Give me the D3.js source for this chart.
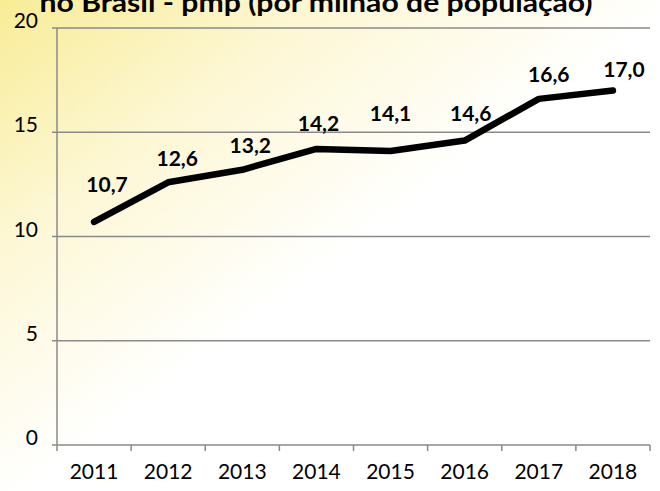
<!DOCTYPE html>
<html>
<head>
  <script src="https://d3js.org/d3.v7.min.js"></script>
  <style>
    body { margin: 0; }
    text { font-family: Lato, "Open Sans", sans-serif; }
  </style>
</head>
<body>
  <div id="chart"></div>
  <script>
    var years = ["2011", "2012", "2013", "2014", "2015", "2016", "2017", "2018"];
    var pmp = [10.7, 12.6, 13.2, 14.2, 14.1, 14.6, 16.6, 17.0];
    var yTicks = [0, 5, 10, 15, 20];
    var title = "no Brasil - pmp (por milhão de população)";

    // hand placed label nudges (dx, dy from the point), like in the original
    var labelNudge = [[13, -30], [9, -16], [8, -17], [2, -18], [0, -30], [6, -20], [10, -17], [11, -14]];

    var width = 660, height = 491;
    var margin = { top: 28, right: 10, bottom: 46, left: 57 };

    var svg = d3.select("#chart").append("svg")
      .attr("width", width)
      .attr("height", height);

    var grad = svg.append("defs").append("linearGradient")
      .attr("id", "bg")
      .attr("x1", 0).attr("y1", 0).attr("x2", 1).attr("y2", 1);
    grad.append("stop").attr("offset", 0).attr("stop-color", "#f8ec96");
    grad.append("stop").attr("offset", 0.25).attr("stop-color", "#fdf7d4");
    grad.append("stop").attr("offset", 0.52).attr("stop-color", "#ffffff");

    svg.append("rect").attr("width", width).attr("height", height).attr("fill", "url(#bg)");

    var x = d3.scaleBand()
      .domain(years)
      .range([margin.left, 650]);

    var y = d3.scaleLinear()
      .domain([0, 20])
      .range([445, margin.top]);

    // gridlines
    svg.append("g")
      .selectAll("line")
      .data(yTicks)
      .enter().append("line")
      .attr("x1", 52).attr("x2", 650)
      .attr("y1", function(d) { return y(d); })
      .attr("y2", function(d) { return y(d); })
      .attr("stroke", "#8a8a8a")
      .attr("stroke-width", 1.5);

    // y axis line
    svg.append("line")
      .attr("x1", margin.left).attr("x2", margin.left)
      .attr("y1", y(20)).attr("y2", y(0))
      .attr("stroke", "#8a8a8a")
      .attr("stroke-width", 1.5);

    // x ticks at band edges
    var edges = years.map(function(d) { return x(d); }).concat([x(years[years.length - 1]) + x.bandwidth()]);
    svg.append("g")
      .selectAll("line")
      .data(edges)
      .enter().append("line")
      .attr("x1", function(d) { return d; })
      .attr("x2", function(d) { return d; })
      .attr("y1", y(0)).attr("y2", y(0) + 6)
      .attr("stroke", "#8a8a8a")
      .attr("stroke-width", 1.5);

    svg.append("g")
      .selectAll("text")
      .data(yTicks)
      .enter().append("text")
      .attr("x", 38)
      .attr("y", function(d) { return y(d); })
      .attr("dy", "0.0em")
      .attr("text-anchor", "end")
      .style("font-size", "21px")
      .text(function(d) { return d; });

    svg.append("g")
      .selectAll("text")
      .data(years)
      .enter().append("text")
      .attr("x", function(d) { return x(d) + x.bandwidth() / 2; })
      .attr("y", 479)
      .attr("text-anchor", "middle")
      .style("font-size", "21px")
      .text(function(d) { return d; });

    var line = d3.line()
      .x(function(d, i) { return x(years[i]) + x.bandwidth() / 2; })
      .y(function(d) { return y(d); });

    svg.append("path")
      .datum(pmp)
      .attr("d", line)
      .attr("fill", "none")
      .attr("stroke", "#000")
      .attr("stroke-width", 6.5)
      .attr("stroke-linejoin", "round")
      .attr("stroke-linecap", "round");

    svg.append("g")
      .selectAll("text")
      .data(pmp)
      .enter().append("text")
      .attr("x", function(d, i) { return x(years[i]) + x.bandwidth() / 2 + labelNudge[i][0]; })
      .attr("y", function(d, i) { return y(d) + labelNudge[i][1]; })
      .attr("text-anchor", "middle")
      .style("font-size", "21px")
      .style("font-weight", "bold")
      .text(function(d) { return d.toFixed(1).replace(".", ","); });

    svg.append("text")
      .attr("x", 316)
      .attr("y", 12)
      .attr("text-anchor", "middle")
      .attr("textLength", 553)
      .attr("lengthAdjust", "spacingAndGlyphs")
      .style("font-size", "27px")
      .style("font-weight", "bold")
      .text(title);
  </script>
</body>
</html>
